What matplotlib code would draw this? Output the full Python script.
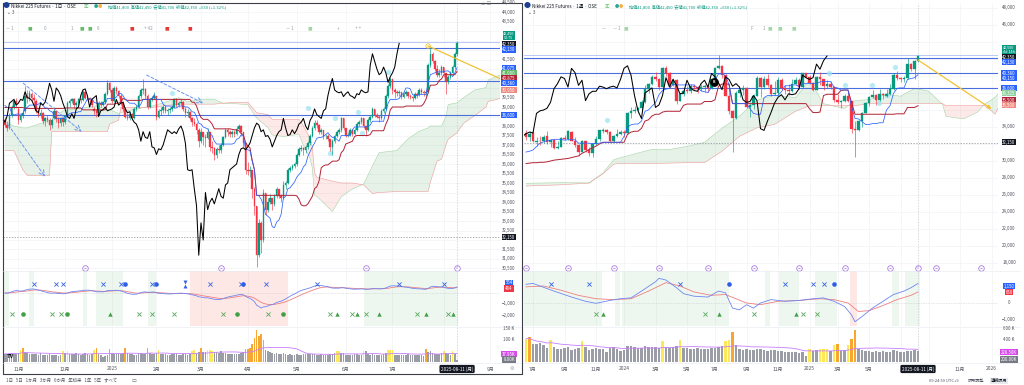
import numpy as np
import pandas as pd
import matplotlib
matplotlib.use("Agg")
import matplotlib.pyplot as plt
import matplotlib.transforms as mtransforms

plt.rcParams['font.family'] = ['Noto Sans CJK JP', 'DejaVu Sans']
plt.rcParams['axes.unicode_minus'] = False

# ============================ DATA ============================
# ---- left chart: daily bars 2024-10-24 .. 2025-08-11 ----
d_start, d_end_future = '2024-10-24', '2025-09-30'
d_closed = ['2024-12-31', '2025-01-01', '2025-01-02', '2025-01-03']
d_open = [
38300,38050,37900,38600,39000,39300,38900,38300,38550,38800,39600,39500,39700,39450,39300,38800,38600,38700,38250,38400,38300,38050,38400,38800,38350,38150,38400,
38200,38550,39200,39300,39400,39100,39200,39400,39350,39800,39500,39450,39350,38900,38800,38700,39200,39100,39250,39700,40250,
39900,39300,40000,39850,39600,39200,38900,38500,38400,38650,38400,38900,39000,39600,39900,39950,39600,39000,39400,39500,
39600,38500,38800,38850,39000,38800,38850,38900,39000,39400,39100,39200,39250,38900,38700,38750,38400,38200,38100,37800,
37200,37700,37400,37350,37700,36900,36850,36500,36800,36750,37000,37400,37800,37700,37600,37700,37600,37850,38000,37700,37100,
35700,35650,35700,34700,33800,31200,32900,32000,34500,33600,34000,34200,33900,34300,34700,34300,34200,34900,35000,35700,35800,35900,
36000,36500,36800,36850,36750,36900,37100,37500,37900,38150,38050,37700,37800,37450,37500,37300,36900,37200,37500,37700,37800,38400,
37900,37500,37550,37800,37600,37800,38100,38200,38400,38000,37800,38300,38500,38900,38600,38500,38400,38800,38900,39600,40100,
40500,39900,39800,39750,39800,39550,39700,39800,39600,39550,39450,39700,39650,39900,39800,39750,39800,41200,41800,41400,41000,40700,40800,
41100,40800,40300,40600,40800,41100,41800]
d_high = [
38450,38250,38700,39100,39400,39500,39000,38700,38900,40100,39900,39900,39800,39700,39400,38900,38900,38750,38500,38600,38400,38400,39000,38850,38500,38500,38500,
38600,39300,39400,39500,39450,39300,39500,39500,39900,39850,39650,39550,39400,39000,38900,39300,39300,39300,39800,40400,40300,
40000,40100,40100,39900,39700,39300,39000,38700,38800,38700,39000,39100,39700,40000,40500,40000,39700,39500,39600,39800,
39600,38900,39000,39100,39100,38950,39000,39100,39500,39450,39300,39400,39300,39000,38900,38800,38500,38400,38200,37900,
37900,37700,37600,37900,37700,37200,36900,36900,37000,37100,37500,37900,37900,37800,37800,37800,38000,38100,38050,37700,37100,
36100,35900,35700,34800,33800,33100,33000,34700,34500,34200,34400,34200,34400,34800,34700,34400,35100,35100,35800,35900,36000,36100,
36600,36900,37000,36900,37000,37200,37600,38000,38300,38300,38100,37900,37800,37600,37600,37300,37300,37600,37800,37900,38500,38400,
37900,37700,37900,37850,37900,38200,38300,38500,38400,38000,38400,38600,39000,38900,38700,38600,38900,39000,39700,40200,40600,
40500,40000,39900,39900,39800,39800,39900,39800,39700,39600,39800,39800,40000,40000,39900,39900,41300,42100,41900,41500,41200,41000,41200,
41100,40800,40700,40900,41200,41900,42450]
d_low = [
37950,37750,37850,38450,38900,38950,38100,38200,38400,38700,39200,39300,39300,39100,38700,38450,38400,38100,38000,38200,37800,37900,38350,38200,37900,38000,38000,
38100,38500,39000,39200,38950,38950,39100,39200,39300,39400,39350,39200,39000,38600,38500,38650,39000,39050,39200,39650,39800,
39200,39250,39700,39500,39100,38800,38400,38300,38300,38300,38350,38800,38950,39500,39700,39400,38900,38950,39300,39400,
38300,38400,38600,38700,38700,38600,38700,38800,38950,39000,39000,39100,38800,38500,38500,38300,38000,38000,37600,36900,
37100,37000,36900,37300,36700,36600,36200,36300,36600,36600,36950,37350,37500,37400,37400,37400,37550,37800,37500,36900,35500,
35400,35300,34200,33300,30600,31100,31300,31900,33300,33500,33900,33600,33800,34200,34200,34000,34150,34700,34950,35600,35700,35800,
35900,36400,36700,36500,36600,36800,37000,37400,37800,37900,37600,37600,37300,37300,37200,36700,36500,37100,37400,37600,37700,37800,
37400,37400,37500,37500,37550,37750,38000,38100,37900,37500,37750,38200,38400,38500,38400,38200,38300,38700,38850,39500,40000,
39700,39500,39600,39600,39400,39500,39600,39500,39400,39300,39400,39500,39600,39700,39600,39600,39750,41100,41300,40900,40600,40600,40700,
40600,39700,40200,40500,40700,41000,41700]
d_close = [
38050,37900,38600,39000,39300,39150,38300,38550,38700,39600,39500,39750,39450,39350,38800,38600,38700,38250,38400,38300,38050,38300,38800,38350,38150,38400,38200,
38550,39200,39300,39400,39100,39200,39400,39350,39800,39500,39450,39350,39100,38800,38700,39200,39100,39250,39700,40250,39900,
39300,40000,39850,39600,39200,38900,38500,38400,38650,38400,38900,39000,39600,39900,39950,39600,39000,39400,39500,39600,
38500,38800,38850,39000,38800,38850,38900,39000,39400,39100,39200,39250,38900,38700,38750,38400,38200,38100,37800,37200,
37700,37400,37350,37700,36900,36850,36500,36800,36750,37000,37400,37800,37700,37600,37700,37600,37850,38000,37700,37100,35700,
35650,35700,34700,33800,31200,32900,32000,34500,33600,34000,34200,33900,34300,34700,34300,34200,34900,35000,35700,35800,35900,36000,
36500,36800,36850,36750,36900,37100,37500,37900,38150,38050,37700,37800,37450,37500,37300,36900,37200,37500,37700,37800,38400,37900,
37500,37550,37800,37600,37800,38100,38200,38400,38000,37800,38300,38500,38900,38600,38500,38400,38800,38900,39600,40100,40500,
39900,39800,39750,39800,39550,39700,39800,39600,39550,39450,39700,39650,39900,39800,39750,39800,41200,41800,41400,41000,40700,40800,41100,
40800,40300,40600,40800,41100,41800,42350]
d_volume_k = [
38,35,42,40,36,37,40,55,62,44,40,36,35,38,37,34,39,33,31,32,36,30,33,34,29,31,52,
40,50,38,36,37,39,35,34,36,42,37,33,35,54,62,36,30,22,28,33,60,
40,38,36,35,37,39,64,41,38,35,34,33,36,39,37,38,63,40,36,37,
42,54,37,35,36,34,33,35,38,36,32,33,36,35,34,38,52,55,41,47,
64,45,44,53,56,52,46,44,42,48,40,39,38,37,36,37,38,35,40,46,58,
60,62,80,110,145,120,125,100,55,48,45,40,38,42,36,38,40,36,34,35,30,33,
36,34,33,35,37,38,36,35,37,34,33,36,32,31,33,36,38,40,50,52,39,42,
33,32,34,31,35,36,33,34,52,48,35,33,36,34,32,31,33,35,40,54,56,
53,34,31,30,32,33,31,35,34,30,32,31,33,30,29,60,45,50,42,38,36,35,40,
52,40,36,34,50,38,8]
d_vol_yellow = [7, 26, 28, 40, 69, 84, 85, 91, 92, 93, 149, 150, 161, 172, 173, 174, 197, 201]
d_vol_orange = [8, 41, 47, 54, 64, 88, 108, 109, 110, 111, 112, 113, 114, 115, 116, 189]
# conversion/base lines at the left edge (values depend on earlier bars)
d_tenkan_early = [39075, 38975, 38975, 38700, 38575]
d_kijun_early = [38975, 38975, 38975, 38975, 38975, 38975, 38975, 38975, 38975]

# ichimoku cloud: bar index, leading span A, leading span B
lc_idx = [0,4,8,10,20,21,26,36,41,46,47,51,52,56,66,72,78,82,88,94,98,103,109,113,118,120,125,132,134,137,
          138,139,140,147,151,156,161,165,168,176,181,186,190,191,194,196,198,199,203,206,211,216,217,221,225,229]
lc_a = [38200,38000,37900,37900,38300,38300,38800,38975,39060,38860,38860,38660,38700,38825,39050,39250,39490,39275,39400,39400,
        39200,39175,39125,38425,37925,37525,37450,37560,36975,36300,35800,34350,34300,33500,34275,34690,34940,35900,36600,36710,
        37325,37725,37900,38000,38000,38000,38500,39125,39225,39500,39900,40025,40425,40625,40800,41000]
lc_b = [36700,36700,35700,35400,35400,37700,37700,37700,37700,37700,38100,38300,38975,38975,38975,39075,39150,39150,39150,39150,
        39200,39250,39250,38700,38600,38350,38350,38350,38000,37350,36900,35550,35300,35100,35000,35000,34900,34450,34500,34550,
        34550,34550,34550,35050,36150,36250,37000,37300,37650,38150,38550,39000,39300,39400,39600,39950]

# drawings on the daily chart (bar index, price)
d_trend_dashed = [((8.2, 40250), (34.4, 37700)), ((1.5, 38050), (18.0, 35330)), ((63.6, 40680), (89.0, 39200))]
d_yellow_line = ((190, 42210), (223, 40460))
d_bubbles = [(74.8, 39720), (136.2, 38930), (148.2, 38400), (158.7, 38750), (172.1, 40860), (145.9, 36560), (160.2, 37620)]

# MACD pane state / signal markers (daily)
d_macd_green = [(-1, 2), (11, 13), (35, 37), (41, 53), (64, 68), (161, 203.5)]
d_macd_red = [(83, 127)]
d_sig_blue_x = [13, 23, 26, 44, 52, 66, 92, 106, 117, 140, 177, 197]
d_sig_blue_dot = [54, 68, 107]
d_sig_blue_hour = [81]
d_sig_green_x = [3, 21, 25, 60, 66, 76, 98, 118, 146, 156, 162, 185, 199]
d_sig_green_dot = [8, 28, 104, 125]
d_sig_green_tri = [47, 149, 158, 168, 189, 201]
d_events = [36, 97, 162]

# ---- right chart: weekly bars from 2023-06-19 ----
w_start = '2023-06-19'
w_open = [
33300,32800,33300,32200,32400,32300,32900,32200,32500,31500,31700,32700,32600,33400,32400,31900,31000,32300,31300,30900,
32000,32600,33500,33600,33400,32300,32900,33200,33400,33300,35600,35900,36000,36200,36900,38500,39100,39900,39700,38700,
40900,40400,38900,39500,37100,37900,38300,38200,38800,38700,38500,38700,38800,38600,39600,40900,41200,40100,37700,35900,
35000,38000,38300,38600,36300,36600,37700,39800,38700,39600,38900,37900,38000,39500,38600,38300,38200,39100,39500,38700,
40300,39900,39200,38400,39900,39600,38800,39100,38700,37200,36900,37000,37700,37100,33800,33600,34700,35700,36800,37500,
37800,37200,37900,37700,37900,38500,40100,39800,39600,39800,41400,40800,41800]
w_high = [
33700,33500,33700,32800,32900,33000,33500,32600,32600,32300,32800,33100,33600,33500,32800,32000,32500,32400,31700,32100,
32900,33700,33900,33800,33500,33100,33800,33600,33600,35800,36300,36500,36400,37200,38900,39200,40100,40500,39800,41000,
41200,40500,39800,39600,38000,38500,38800,39100,39100,38800,39100,39100,38900,39700,41000,42500,41300,40200,39200,36000,
38200,38500,38900,38700,36900,37900,40000,39900,40000,40200,39000,39400,39900,39800,38900,39000,39600,39900,39800,40400,
40300,40100,39300,40000,40500,39600,39500,39400,38800,37900,37200,37900,38100,37100,34700,34800,35800,36900,37600,38300,
37900,38500,38000,38500,39000,40300,40600,39900,40000,42100,41500,41900,42500]
w_low = [
32500,32400,32200,31800,31900,32100,32000,31700,31400,31400,31700,32500,32500,32300,31600,30600,31000,31100,30600,30500,
31900,32300,33300,33200,32200,32200,32800,33100,32800,33200,35100,35600,35700,35900,36800,38000,38900,39400,38300,38600,
40000,38600,38800,36700,37000,37700,38000,38000,38300,38000,38200,38100,38100,38500,39400,40800,39800,37600,35500,31000,
34900,37500,37800,36200,35200,36100,37600,37500,38500,38700,37700,37800,37800,38400,37900,37800,38100,39000,38500,38600,
39800,39100,38200,38300,38900,38300,38600,38500,36900,36700,36200,36900,36900,33300,30500,33500,34000,35600,36500,37400,
36600,37100,37300,37500,37800,38300,39500,39300,39300,39600,40600,39700,41700]
w_close = [
32800,33200,32400,32400,32300,32800,32200,32500,31500,31700,32700,32600,33500,32400,31900,31000,32300,31300,30900,32000,
32600,33600,33600,33400,32300,32900,33200,33400,33300,35600,35900,36000,36200,36900,38500,39100,39900,39700,38700,40900,
40400,38900,39500,37100,37900,38200,38200,38800,38700,38500,38700,38800,38600,39600,40900,41200,40100,37700,35900,35000,
38000,38300,38600,36300,36600,37700,39800,38700,39600,38900,37900,38000,39500,38600,38300,38200,39100,39500,38700,40300,
39900,39200,38400,39900,39600,38800,39100,38700,37200,36900,37000,37700,37100,33800,33600,34700,35700,36800,37500,37800,
37200,37900,37800,37900,38500,40100,39800,39600,39800,41400,40800,41800,42350]
w_volume_k = [
420,450,330,320,340,300,250,400,280,240,230,260,270,220,240,250,380,280,220,230,260,240,230,180,250,270,240,200,
220,290,290,270,260,260,290,280,270,280,260,380,280,250,270,290,400,260,250,240,230,250,245,240,230,260,250,270,
290,380,400,540,300,230,210,240,220,225,240,230,215,205,220,210,195,200,185,190,175,185,170,190,110,
240,200,210,235,240,230,200,300,330,200,210,300,420,580,230,210,200,195,190,200,185,200,190,180,210,195,185,190,200,195,215,200]
w_vol_yellow = [0, 7, 16, 39, 44, 57, 58, 81, 84, 85, 86, 88, 92]
w_vol_orange = [1, 59, 89, 93, 94]
w_tenkan_early = [31050, 31150, 31300, 31700, 32100, 32250, 32400, 32450]
w_kijun_early = [29700, 29750, 29800, 29800, 29850, 29850, 29900, 30000, 30100, 30150, 30200, 30250, 30300,
                 30400, 30500, 30600, 30900, 31100, 31350, 31550, 31750, 32000, 32200, 32200, 32200, 32200]

# weekly MACD
w_macd_idx = [0,2,8,13,17,20,24,27,30,33,37,38,40,43,45,48,52,55,57,59,61,63,65,67,70,74,78,82,85,88,91,93,94,96,99,102,105,108,110,112]
w_macd_val = [1100,1150,700,350,100,-20,150,250,300,700,1250,1450,1350,900,550,400,350,700,600,-300,-400,-100,-300,0,200,
              100,150,250,300,100,-200,-700,-1100,-800,-300,100,500,700,900,1150]
w_signal_idx = [0,5,10,15,20,25,30,35,40,44,48,53,57,60,63,67,72,78,84,88,92,95,98,102,106,110,112]
w_signal_val = [950,1000,750,450,250,200,250,700,1200,1000,650,450,500,250,0,-100,100,150,250,200,0,-500,-450,-150,200,450,650]

rc_idx = [0,10,18,22,25,26,36,41,46,51,56,61,66,71,77,81,85,91,94,98,103,107,111,115,119,120,125,129,131,133,134,135,138]
rc_a = [27375,27450,27425,28575,30125,30275,31375,31350,31725,32200,33850,35275,37150,37750,37450,39525,36750,36175,37100,
        37225,37850,37625,38525,38225,36675,35250,34950,35750,36675,37200,37500,37950,38325]
rc_b = [27050,27200,27400,28500,29600,29700,29700,29750,29800,29800,31150,32900,33900,34300,35850,36500,36500,36500,36500,
        36750,36750,36750,36750,36750,36750,36500,36500,36500,36500,35900,35500,36300,36500]

w_yellow_arrow = ((112, 41880), (133, 36120))
w_bubbles = [(23.1, 34820), (86.5, 40320), (91.0, 38980), (98.9, 38940), (100.8, 36790), (103.1, 37770), (105.5, 41100)]
w_marker_b = (53.7, 39290)

w_macd_green = [(-1, 21.7), (25.4, 26.9), (27.4, 58), (68.3, 69.7), (72.3, 78), (82.6, 88.9), (104.6, 106.6), (108.3, 112.5)]
w_macd_red = [(92.6, 94.6)]
w_sig_blue_x = [7, 18, 44, 74, 82, 85]
w_sig_blue_dot = [58, 88]
w_sig_green_x = [20, 51, 65, 79, 83]
w_sig_green_tri = [22, 55, 77]
w_events = [0, 12, 25, 38, 52, 65, 78, 91, 104, 117, 130]

# ---- shared horizontal levels ----
levels_blue = [42130, 40380, 38600]
level_light = 42440
level_dashed = 32150

# ============================ STYLE ============================
W, H = 1024, 385
UP, DN = '#089981', '#f23645'
TENKAN, KIJUN = '#2962ff', '#b22234'
GRID = '#f2f3f6'
AXTXT = '#50535e'
fig = plt.figure(figsize=(W / 100, H / 100), dpi=100)
fig.patch.set_facecolor('white')


def px_ax(x0, y0, x1, y1):
    ax = fig.add_axes([x0 / W, 1 - y1 / H, (x1 - x0) / W, (y1 - y0) / H])
    ax.patch.set_alpha(0)
    for s in ax.spines.values():
        s.set_visible(False)
    ax.set_xticks([]); ax.set_yticks([])
    return ax


def ftext(x, y, s, **kw):
    kw.setdefault('fontsize', 3.8)
    kw.setdefault('va', 'center')
    fig.text(x / W, 1 - y / H, s, **kw)


def to_px(ax, v):
    return H - ax.transData.transform((0, v))[1]


def box_label(xpx, ypx, s, fc, fs=3.1):
    ftext(xpx, ypx, s, color='white', fontsize=fs, ha='center', zorder=30,
          bbox=dict(boxstyle='square,pad=0.18', fc=fc, ec='none'))


def plain_ticks(ax, xpx, vals, fmt, busy):
    for v in vals:
        y = to_px(ax, v)
        if min([abs(y - b) for b in busy] + [99]) < 5.5:
            continue
        ftext(xpx, y, fmt(v), color=AXTXT, fontsize=3.2, ha='center')


def xlab(ax, xval, ypx, s, **kw):
    tr = mtransforms.blended_transform_factory(ax.transData, fig.transFigure)
    kw.setdefault('fontsize', 3.5)
    kw.setdefault('color', AXTXT)
    ax.text(xval, 1 - ypx / H, s, transform=tr, ha='center', va='center', clip_on=False, zorder=30, **kw)


def candles(ax, o, h, l, c, w):
    o, h, l, c = map(np.asarray, (o, h, l, c))
    x = np.arange(len(o))
    col = np.where(c >= o, UP, DN)
    ax.vlines(x, l, h, colors=col, lw=0.45, zorder=4)
    ax.bar(x, np.abs(c - o), bottom=np.minimum(o, c), width=w, color=col, edgecolor=col, lw=0.25, zorder=5)


def cloud(ax, xi, a, b):
    xi, a, b = map(np.asarray, (xi, a, b))
    ax.fill_between(xi, a, b, where=a >= b, interpolate=True, color='#43a047', alpha=0.13, lw=0, zorder=1)
    ax.fill_between(xi, a, b, where=a < b, interpolate=True, color='#f44336', alpha=0.11, lw=0, zorder=1)
    ax.plot(xi, a, color='#a5d6a7', lw=0.4, zorder=1)
    ax.plot(xi, b, color='#ef9a9a', lw=0.4, zorder=1)


def ichimoku(ax, h, l, c, tenkan_early, kijun_early):
    hs, ls = pd.Series(h, dtype=float), pd.Series(l, dtype=float)
    tenkan = (hs.rolling(9, min_periods=1).max() + ls.rolling(9, min_periods=1).min()) / 2
    kijun = (hs.rolling(26, min_periods=1).max() + ls.rolling(26, min_periods=1).min()) / 2
    tenkan.iloc[:len(tenkan_early)] = tenkan_early
    kijun.iloc[:len(kijun_early)] = kijun_early
    x = np.arange(len(c))
    ax.plot(x, kijun, color=KIJUN, lw=0.7, zorder=6)
    ax.plot(x, tenkan, color=TENKAN, lw=0.55, zorder=6)
    ax.plot(x - 26, c, color='black', lw=0.75, zorder=7)
    return tenkan.iloc[-1], kijun.iloc[-1]


def macd(c):
    s = pd.Series(c, dtype=float)
    m = s.ewm(span=12, adjust=False).mean() - s.ewm(span=26, adjust=False).mean()
    return np.arange(len(c)), m.values, np.arange(len(c)), m.ewm(span=9, adjust=False).mean().values


def vol_colors(n, yellow, orange):
    cols = ['#9a9da6'] * n
    for i in yellow:
        cols[i] = '#fde85a'
    for i in orange:
        cols[i] = '#f7a631'
    return cols


def month_ticks(dates, nmax, odd_only=False):
    out = []
    for i in range(1, min(nmax, len(dates))):
        d, p = dates[i], dates[i - 1]
        if d.month != p.month:
            if odd_only and d.month % 2 == 0:
                continue
            out.append((i, str(d.year) if d.month == 1 else f'{d.month}月'))
    return out


def markers_row(ax, xs, yfrac, marker, color, size, filled=True):
    tr = mtransforms.blended_transform_factory(ax.transData, ax.transAxes)
    if filled:
        ax.scatter(xs, [yfrac] * len(xs), s=size, marker=marker, color=color, transform=tr, zorder=6, lw=0)
    else:
        ax.scatter(xs, [yfrac] * len(xs), s=size, marker=marker, color=color, transform=tr, zorder=6, lw=0.6)


def events_row(ax, xs, yfrac, last=None):
    tr = mtransforms.blended_transform_factory(ax.transData, ax.transAxes)
    ax.scatter(xs, [yfrac] * len(xs), s=16, marker='o', facecolor='white', edgecolor='#a77be3', lw=0.6,
               transform=tr, zorder=9, clip_on=False)
    ax.scatter(xs, [yfrac] * len(xs), s=4, marker='_', color='#a77be3', lw=0.6, transform=tr, zorder=10, clip_on=False)
    if last is not None:
        ax.scatter([last], [yfrac], s=16, marker='o', facecolor='white', edgecolor='#a77be3', lw=0.6,
                   transform=tr, zorder=9, clip_on=False)
        ax.text(last, yfrac, '4', transform=tr, fontsize=2.6, color='#a77be3', ha='center', va='center', zorder=10)


def build_panel(cfg):
    o, h, l, c = cfg['o'], cfg['h'], cfg['l'], cfg['c']
    n = len(c)
    x0, x1 = cfg['x0'], cfg['x1']
    axp = px_ax(x0, 3, x1, 270)
    axm = px_ax(x0, 271, x1, 326)
    axv = px_ax(x0, 327, x1, 362)
    for ax in (axp, axm, axv):
        ax.set_xlim(*cfg['xlim'])
    axp.set_ylim(*cfg['ylim'])
    axm.set_ylim(*cfg['mlim'])
    axv.set_ylim(0, cfg['vtop'])

    ticks = cfg['ticks']
    for ax in (axp, axm, axv):
        for i, _ in ticks:
            ax.axvline(i, color=GRID, lw=0.5, zorder=0)
    for v in cfg['pticks']:
        axp.axhline(v, color=GRID, lw=0.5, zorder=0)

    cloud(axp, cfg['cx'], cfg['ca'], cfg['cb'])
    for v in levels_blue:
        axp.axhline(v, color='#4a6fdc', lw=0.8, zorder=2)
    axp.axhline(level_light, color='#9fb4f0', lw=0.5, zorder=2)
    axp.axhline(level_dashed, color='#8a8d96', lw=0.5, ls=(0, (2, 2)), zorder=2)
    for ax in (axp, axm, axv):
        ax.axvline(n - 1, color='#c4c7cf', lw=0.5, ls=(0, (2, 2)), zorder=2)

    candles(axp, o, h, l, c, cfg['bw'])
    tk, kj = ichimoku(axp, h, l, c, cfg['tk_early'], cfg['kj_early'])

    bx = [p[0] for p in cfg['bubbles']]
    by = [p[1] for p in cfg['bubbles']]
    axp.scatter(bx, by, s=14, color='#9fe3f2', alpha=0.75, lw=0, zorder=3)

    for a, b in cfg['mg']:
        axm.axvspan(a, b, color='#4caf50', alpha=0.09, lw=0, zorder=0)
    for a, b in cfg['mr']:
        axm.axvspan(a, b, color='#f44336', alpha=0.12, lw=0, zorder=0)
    axm.axhline(0, color='#b0b3ba', lw=0.4, ls=(0, (1, 2)), zorder=1)
    mx, mv, sx, sv = cfg['macd'](c)
    axm.plot(sx, sv, color='#ef7f7f', lw=0.6, zorder=3)
    axm.plot(mx, mv, color='#6d86f2', lw=0.6, zorder=4)
    markers_row(axm, cfg['bx'], 0.764, 'x', '#3763e8', 9, filled=False)
    markers_row(axm, cfg['bdot'], 0.764, 'o', '#2f5fe9', 11)
    for i in cfg.get('bhour', []):
        markers_row(axm, [i], 0.80, 'v', '#2f5fe9', 8)
        markers_row(axm, [i], 0.73, '^', '#2f5fe9', 8)
    markers_row(axm, cfg['gx'], 0.218, 'x', '#5aa85e', 9, filled=False)
    markers_row(axm, cfg.get('gdot', []), 0.218, 'o', '#43a047', 11)
    markers_row(axm, cfg['gtri'], 0.218, '^', '#43a047', 10)

    xs = np.arange(n)
    vol = np.asarray(cfg['vol'], dtype=float) * 1000
    axv.bar(xs, vol, width=cfg['vw'], color=vol_colors(n, cfg['vy'], cfg['vo']), lw=0, zorder=2)
    vma = pd.Series(vol).rolling(20, min_periods=1).mean()
    axv.plot(xs, vma, color='#c77dff', lw=0.6, zorder=3)

    events_row(axp, cfg['events'], 0.0075, last=n - 1)

    # time axis (labels hidden under the date tag are skipped, as on the chart)
    px_per_bar = (x1 - x0) / (cfg['xlim'][1] - cfg['xlim'][0])
    for i, s_ in ticks:
        if abs(i - (n - 1)) * px_per_bar < 22:
            continue
        xlab(axv, i, 369, s_)
    xlab(axv, n - 1, 369, cfg['date_tag'], color='white', fontsize=3.3,
         bbox=dict(boxstyle='round,pad=0.3,rounding_size=0.3', fc='#131722', ec='none'))
    return dict(p=axp, m=axm, v=axv, tk=tk, kj=kj, m_last=mv[-1], s_last=sv[-1], vma=vma.iloc[-1])


def weekly_macd(c):
    return w_macd_idx, np.asarray(w_macd_val, float), w_signal_idx, np.asarray(w_signal_val, float)


# ---- left panel ----
d_dates = pd.bdate_range(d_start, d_end_future)
d_dates = d_dates[~d_dates.isin(pd.to_datetime(d_closed))]
cfgL = dict(o=d_open, h=d_high, l=d_low, c=d_close, x0=3, x1=500,
            xlim=((3 - 5) / 2.227, (500 - 5) / 2.227), ylim=(30421, 44474), mlim=(-3000, 2000), vtop=159000,
            ticks=month_ticks(d_dates, 223), pticks=list(range(30500, 44501, 500)),
            cx=lc_idx, ca=lc_a, cb=lc_b, bw=1.0 / 2.227 * 1.55, bubbles=d_bubbles,
            tk_early=d_tenkan_early, kj_early=d_kijun_early, macd=macd,
            mg=d_macd_green, mr=d_macd_red, bx=d_sig_blue_x, bdot=d_sig_blue_dot, bhour=d_sig_blue_hour,
            gx=d_sig_green_x, gdot=d_sig_green_dot, gtri=d_sig_green_tri,
            vol=d_volume_k, vw=0.72, vy=d_vol_yellow, vo=d_vol_orange, events=d_events,
            date_tag='2025-08-11 (月)')
L = build_panel(cfgL)

# ---- right panel ----
w_dates = pd.date_range(w_start, periods=150, freq='W-MON')
cfgR = dict(o=w_open, h=w_high, l=w_low, c=w_close, x0=524, x1=998,
            xlim=((524 - 526) / 3.5, (998 - 526) / 3.5), ylim=(17176, 48588), mlim=(-1353, 1882), vtop=636000,
            ticks=month_ticks(w_dates, 135, odd_only=True), pticks=list(range(18000, 48001, 2000)),
            cx=rc_idx, ca=rc_a, cb=rc_b, bw=0.68, bubbles=w_bubbles,
            tk_early=w_tenkan_early, kj_early=w_kijun_early, macd=weekly_macd,
            mg=w_macd_green, mr=w_macd_red, bx=w_sig_blue_x, bdot=w_sig_blue_dot,
            gx=w_sig_green_x, gtri=w_sig_green_tri,
            vol=w_volume_k, vw=0.75, vy=w_vol_yellow, vo=w_vol_orange, events=w_events,
            date_tag='2025-08-11 (月)')
R = build_panel(cfgR)

# ---- drawings ----
for (a, b) in d_trend_dashed:
    L['p'].annotate('', xy=b, xytext=a, zorder=6,
                    arrowprops=dict(arrowstyle='->', color='#6b93ef', lw=0.7, ls=(0, (3, 2)), shrinkA=0, shrinkB=0))
(ya, yb) = d_yellow_line
L['p'].plot([ya[0], yb[0]], [ya[1], yb[1]], color='#f2c230', lw=0.9, zorder=8)
L['p'].scatter([ya[0]], [ya[1]], s=10, facecolor='none', edgecolor='#f2c230', lw=0.6, zorder=8)
(ra, rb) = w_yellow_arrow
R['p'].annotate('', xy=rb, xytext=ra, zorder=8,
                arrowprops=dict(arrowstyle='-|>', color='#f2c230', lw=0.9, shrinkA=0, shrinkB=0, mutation_scale=5))
R['p'].scatter([w_marker_b[0]], [w_marker_b[1]], s=28, color='black', zorder=9)
R['p'].text(w_marker_b[0], w_marker_b[1], 'B', color='white', fontsize=2.6, ha='center', va='center', zorder=10,
            fontweight='bold')

# ---- price-scale labels (coloured boxes stacked like the chart, then plain ticks) ----
labelsL = [(35.5, f'{d_high[-1]:,}\n52:75', '#089981'), (44, f'{d_close[-1]:,}', '#131722'),
           (49.5, f'{levels_blue[0]:,}', '#2962ff'), (68, f'{int(L["tk"]):,}', '#2962ff'),
           (73, f'{lc_a[-1]:,}', '#66bb6a'), (78, f'{int(L["kj"]):,}', '#b22234'),
           (83, f'{levels_blue[1]:,}', '#2962ff'), (90, f'{lc_b[-1]:,}', '#ef8a80'),
           (115, f'{levels_blue[2]:,}', '#2962ff'), (237, f'{level_dashed:,}', '#131722')]
for y, s_, fc in labelsL:
    box_label(509, y, s_, fc, fs=2.7 if '\n' in s_ else 3.1)
plain_ticks(L['p'], 509, cfgL['pticks'], lambda v: f'{v:,}', [y for y, _, _ in labelsL] + [33, 38])
labelsLm = [(283, f'{int(L["m_last"]):,}', '#2962ff'), (288.5, f'{int(L["s_last"]):,}', '#f23645')]
for y, s_, fc in labelsLm:
    box_label(509, y, s_, fc)
plain_ticks(L['m'], 509, [1000, 0, -1000, -2000], lambda v: f'{v:,}'.replace('-', '−'), [y for y, _, _ in labelsLm])
box_label(509, 354, f'{L["vma"] / 1000:.2f}K', '#d64be8')
box_label(509, 359.5, f'{d_volume_k[-1]:.2f}K', '#787b86')
plain_ticks(L['v'], 509, [150000, 100000], lambda v: f'{v // 1000} K', [354, 359.5])

labelsR = [(49.5, f'{w_high[-1]:,}\n4d 14h', '#089981'), (57, f'{w_close[-1]:,}', '#131722'),
           (62, f'{levels_blue[0]:,}', '#2962ff'), (73, f'{levels_blue[1]:,}', '#2962ff'),
           (78, f'{int(R["tk"]):,}', '#2962ff'), (88, f'{levels_blue[2]:,}', '#2962ff'),
           (93, f'{rc_a[-1]:,}', '#8fd19e'), (100, f'{int(R["kj"]):,}', '#b22234'),
           (105, f'{rc_b[-1]:,}', '#ef8a80'), (142, f'{level_dashed:,}', '#131722')]
for y, s_, fc in labelsR:
    box_label(1009, y, s_, fc, fs=2.7 if '\n' in s_ else 3.1)
plain_ticks(R['p'], 1009, cfgR['pticks'], lambda v: f'{v:,}', [y for y, _, _ in labelsR] + [47, 52])
labelsRm = [(286, f'{int(R["m_last"]):,}', '#2962ff'), (292, f'{int(R["s_last"]):,}', '#f23645')]
for y, s_, fc in labelsRm:
    box_label(1009, y, s_, fc)
plain_ticks(R['m'], 1009, [1000, 0, -1000], lambda v: f'{v:,}'.replace('-', '−'), [y for y, _, _ in labelsRm])
box_label(1009, 352, f'{R["vma"] / 1000:.2f}K', '#d64be8')
box_label(1009, 359.5, f'{w_volume_k[-1]:.2f}K', '#787b86')
plain_ticks(R['v'], 1009, [600000, 400000], lambda v: f'{v // 1000} K', [352, 359.5])

# ---- legends / header rows ----
for x0, tf in ((4, '1日'), (525, '1週')):
    ftext(x0 + 2.5, 6.5, '●', color='#1c3f94', fontsize=5, ha='center')
    ftext(x0 + 7, 6.5, f'Nikkei 225 Futures · {tf} · OSE', color='#131722', fontsize=3.3)
    ftext(x0 + 80, 6.5, '▣', color='#66bb6a', fontsize=3.3)
    ftext(x0 + 90, 6.5, '●', color='#26a69a', fontsize=3.0)
    ftext(x0 + 94, 6.5, '●', color='#f5b041', fontsize=3.0)
    ftext(x0 + 104, 6.5, '始値41,800  高値42,450  安値41,700  終値42,350  +550 (+1.32%)', color='#089981', fontsize=3.0)
    ftext(x0 + 3, 12.5, '⌄ 3', color='#50535e', fontsize=3.3)

row_items_L = [(10, '— 1', '#9a9da6'), (30, '■', '#66bb6a'), (45, '0', '#9a9da6'), (72, '1', '#9a9da6'),
               (82, '■', '#66bb6a'), (90, '■', '#66bb6a'), (98, '6', '#9a9da6'), (132, '■', '#e53935'),
               (148, '+ 42', '#9a9da6'), (167, '■', '#e53935'), (190, '■', '#e53935'), (290, '— 1', '#9a9da6'),
               (310, '■', '#a5d6a7'), (338, '+', '#9a9da6'), (358, '+ +', '#9a9da6')]
for x, s_, col in row_items_L:
    ftext(x, 29, s_, color=col, fontsize=3.3, ha='center')
row_items_R = [(604, '—', '#9a9da6'), (617, '— 1', '#9a9da6'), (626, '■', '#a5d6a7'), (752, 'F', '#9a9da6'),
               (764, '1', '#9a9da6'), (770, '■', '#a5d6a7'), (780, '■', '#a5d6a7'), (794, '■', '#a5d6a7')]
for x, s_, col in row_items_R:
    ftext(x, 29, s_, color=col, fontsize=3.3, ha='center')

ftext(486, 4, '⊥  ▢', color='#9a9da6', fontsize=3.0, ha='center')
ftext(10, 357, 'TV', color='#131722', fontsize=4.2, fontweight='bold', ha='center')
ftext(512, 369, '⚙', color='#9a9da6', fontsize=3.6, ha='center')

ftext(6, 380.5, '1日   5日   1か月   3か月   6か月   年初来   1年   5年   すべて', color='#50535e', fontsize=3.2)
ftext(132, 380.5, '▭', color='#50535e', fontsize=3.6)
ftext(944, 381, '09:24:59 UTC+9', color='#50535e', fontsize=3.0, ha='center')
ftext(976, 381, '限月調整', color='#50535e', fontsize=3.0, ha='center')
ftext(999, 381, '連続限月', color='#131722', fontsize=3.0, ha='center',
      bbox=dict(boxstyle='square,pad=0.2', fc='#e8eaef', ec='none'))

# ---- frames ----
frame = fig.add_axes([0, 0, 1, 1])
frame.set_xlim(0, W); frame.set_ylim(H, 0)
frame.axis('off')
frame.patch.set_alpha(0)
frame.plot([2.5, 521.5, 521.5, 2.5, 2.5], [2.5, 2.5, 373.5, 373.5, 2.5], color='#3c3f48', lw=0.8)
for xa, xb in ((3, 521), (524, 1020)):
    for yy in (270.5, 326.5, 363):
        frame.plot([xa, xb], [yy, yy], color='#e6e8ee', lw=0.4)

fig.savefig('out.png', dpi=100, facecolor='white')
